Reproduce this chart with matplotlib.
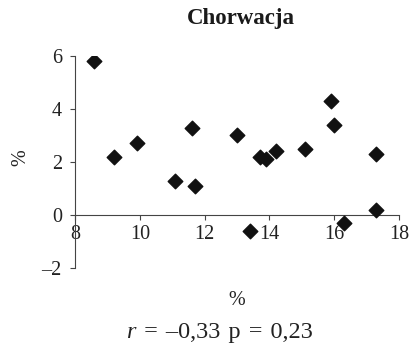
import matplotlib.pyplot as plt

# dane: Chorwacja
x_vals = [8.6, 9.2, 9.9, 11.1, 11.6, 11.7, 13.0, 13.4, 13.7, 13.9, 14.2,
          15.1, 15.9, 16.0, 16.3, 17.3, 17.3]
y_vals = [5.8, 2.2, 2.7, 1.3, 3.3, 1.1, 3.0, -0.6, 2.2, 2.1, 2.4,
          2.5, 4.3, 3.4, -0.3, 2.3, 0.2]
x_ticks = [8, 10, 12, 14, 16, 18]
y_ticks = [-2, 0, 2, 4, 6]

plt.rcParams['font.family'] = ['Liberation Serif', 'DejaVu Serif']
plt.rcParams['axes.unicode_minus'] = False

fig = plt.figure(figsize=(4.13, 3.47), dpi=100)
ax = fig.add_axes([0.1816, 0.2277, 0.7845, 0.6109])

ax.scatter(x_vals, y_vals, marker='D', s=55, color='#111111', zorder=3)

ax.set_xlim(8, 18)
ax.set_ylim(-2, 6)
ax.spines['top'].set_visible(False)
ax.spines['right'].set_visible(False)
ax.spines['bottom'].set_position(('data', 0))
ax.spines['left'].set_color('#444444')
ax.spines['bottom'].set_color('#444444')

ax.set_xticks(x_ticks)
ax.set_yticks(y_ticks)
ax.set_yticklabels(['\u20132' if t < 0 else str(t) for t in y_ticks])
ax.tick_params(axis='both', labelsize=14.5, color='#444444', length=3.5,
               labelcolor='#222222')
ax.tick_params(axis='x', pad=4)
ax.tick_params(axis='y', pad=6)

fig.text(0.584, 0.948, 'Chorwacja', ha='center', va='center',
         fontsize=16.5, fontweight='bold', color='#1a1a1a')
fig.text(0.05, 0.545, '%', ha='center', va='center', rotation=90,
         fontsize=14.5, color='#222222')

fig.text(0.574, 0.135, '%', ha='center', va='center', fontsize=14.5,
         color='#222222')
# r kursywą, reszta zwykłym krojem; odstępy nieco szersze
sp = ' \u200a'
fig.text(0.329, 0.027, 'r', ha='right', va='baseline', fontsize=17.5,
         fontstyle='italic', color='#222222')
fig.text(0.329, 0.027, sp + '=' + sp + '\u20130,33' + sp + 'p' + sp + '='
         + sp + '0,23', ha='left', va='baseline', fontsize=17.5,
         color='#222222')

fig.savefig('out.png', dpi=100)
